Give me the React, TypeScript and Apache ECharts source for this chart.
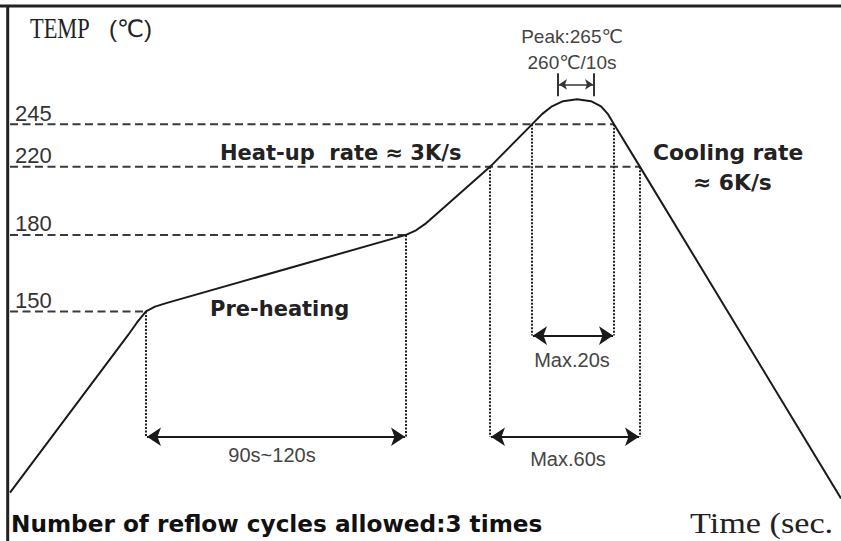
import React, { useEffect, useRef } from "react";
import * as echarts from "echarts";

// Schematic reflow profile. x: schematic time units, y: schematic temperature height
const profileTime = [0, 118, 127, 136, 145, 157, 396, 406, 416, 426, 480, 522, 532, 542, 553, 567, 581, 591, 598, 604, 630, 831];
const profileTemp = [28.5, 121, 128.5, 135, 137.8, 140, 180, 182.7, 186.8, 192, 220, 245, 251, 255.6, 258.6, 259.7, 258.6, 255.6, 251, 245, 220, 25];

// Temperature guide levels (label, schematic height, where the dashed guide ends)
const levelLabels = ["150", "180", "220", "245"];
const levelHeights = [135, 180, 220, 245];
const guideEnds = [136, 396, 630, 604];

// Vertical dotted markers
const markerTimes = [136, 396, 480, 522, 604, 630];
const markerTops = [135, 180, 220, 245, 245, 220];
const markerBottoms = [61.3, 61.3, 61.3, 120.8, 120.8, 61.3];

// Double-headed duration arrows: [from, to, height]
const spanFrom = [137, 481, 523];
const spanTo = [395, 629, 603];
const spanHeight = [61.3, 61.3, 120.8];

// Peak 260°C/10s indicator
const peakFrom = 548;
const peakTo = 584;
const peakHeight = 268.5;
const peakBarLow = 261.5;
const peakBarHigh = 275;

const SANS = "'Liberation Sans', Arial, 'DejaVu Sans', sans-serif";
const BOLD = "'DejaVu Sans', 'Liberation Sans', sans-serif";
const SERIF = "'Liberation Serif', 'Times New Roman', serif";

export default function App() {
  const ref = useRef<HTMLDivElement>(null);
  useEffect(() => {
    if (!ref.current) return;
    const chart = echarts.init(ref.current, undefined, { renderer: "svg" });

    const series: any[] = [];
    series.push({
      type: "line",
      data: profileTime.map((t, i) => [t, profileTemp[i]]),
      symbol: "none",
      lineStyle: { color: "#1a1a1a", width: 2 },
      z: 5,
    });
    levelHeights.forEach((h, i) => {
      series.push({
        type: "line",
        data: [[0, h], [guideEnds[i], h]],
        symbol: "none",
        lineStyle: { color: "#3a3a3a", width: 2, type: [8, 4.5] },
        z: 3,
      });
    });
    markerTimes.forEach((t, i) => {
      series.push({
        type: "line",
        data: [[t, markerTops[i]], [t, markerBottoms[i]]],
        symbol: "none",
        lineStyle: { color: "#222", width: 2, type: [2, 1.5] },
        z: 3,
      });
    });
    series.push({
      type: "line",
      data: [],
      markLine: {
        silent: true,
        animation: false,
        symbol: ["arrow", "arrow"],
        symbolSize: 14,
        label: { show: false },
        lineStyle: { color: "#1a1a1a", width: 2, type: "solid" },
        data: spanFrom.map((f, i) => [
          { coord: [f, spanHeight[i]] },
          { coord: [spanTo[i], spanHeight[i]] },
        ]),
      },
    });
    series.push({
      type: "line",
      data: [],
      markLine: {
        silent: true,
        animation: false,
        symbol: ["arrow", "arrow"],
        symbolSize: 8,
        label: { show: false },
        lineStyle: { color: "#333", width: 1.5, type: "solid" },
        data: [[{ coord: [peakFrom + 1, peakHeight] }, { coord: [peakTo - 1, peakHeight] }]],
      },
    });
    [peakFrom, peakTo].forEach((t) => {
      series.push({
        type: "line",
        data: [[t, peakBarLow], [t, peakBarHigh]],
        symbol: "none",
        lineStyle: { color: "#333", width: 2 },
      });
    });

    const txt = (text: string, x: number, y: number, font: string, size: number, opts: any = {}) => ({
      type: "text",
      x,
      y,
      scaleX: opts.scaleX ?? 1,
      scaleY: opts.scaleY ?? 1,
      style: {
        text,
        fontFamily: font,
        fontSize: size,
        fontWeight: opts.bold ? "bold" : "normal",
        fill: opts.color ?? "#333",
        align: opts.align ?? "left",
        verticalAlign: "middle",
      },
    });

    chart.setOption({
      animation: false,
      backgroundColor: "#fff",
      grid: { left: 10, top: 7, width: 831, height: 538 },
      xAxis: { type: "value", min: 0, max: 831, show: false },
      yAxis: {
        type: "value",
        min: 0,
        max: 314,
        axisLine: { show: false },
        axisTick: { show: false },
        splitLine: { show: false },
        axisLabel: {
          inside: true,
          customValues: levelHeights,
          formatter: (v: number) => {
            const i = levelHeights.indexOf(v);
            return i >= 0 ? levelLabels[i] : "";
          },
          margin: 5,
          verticalAlign: "bottom",
          fontSize: 22,
          color: "#333",
          fontFamily: SANS,
        },
      },
      series,
      graphic: [
        { type: "line", shape: { x1: 0, y1: 6, x2: 841, y2: 6 }, style: { stroke: "#222", lineWidth: 3 } },
        { type: "line", shape: { x1: 7.7, y1: 5, x2: 7.7, y2: 541 }, style: { stroke: "#222", lineWidth: 3 } },
        txt("TEMP", 30, 28, SERIF, 28, { scaleX: 0.8, scaleY: 1.05, color: "#222" }),
        txt("(℃)", 109, 28, SANS, 24, { color: "#222" }),
        txt("Peak:265℃", 572, 36, SANS, 19, { align: "center", color: "#444" }),
        txt("260℃/10s", 572, 62, SANS, 19, { align: "center", color: "#444" }),
        txt("Heat-up  rate ≈ 3K/s", 220, 153, BOLD, 21, { bold: true, color: "#222" }),
        txt("Cooling rate", 653, 152, BOLD, 21.8, { bold: true, color: "#222" }),
        txt("≈ 6K/s", 693, 182, BOLD, 21.8, { bold: true, color: "#222" }),
        txt("Pre-heating", 210, 309, BOLD, 21, { bold: true, color: "#222" }),
        txt("Max.20s", 572, 360, SANS, 20, { align: "center", color: "#444" }),
        txt("Max.60s", 568, 459, SANS, 20, { align: "center", color: "#444" }),
        txt("90s~120s", 272, 455, SANS, 20, { align: "center", color: "#444" }),
        txt("Number of reflow cycles allowed:3 times", 11, 523, BOLD, 23.2, { bold: true, color: "#111" }),
        txt("Time (sec.", 690, 523, SERIF, 29, { scaleX: 1.18, color: "#222" }),
      ],
    });
    return () => chart.dispose();
  }, []);
  return (
    <div
      ref={ref}
      style={{ position: "absolute", left: 0, top: 0, width: 841, height: 541, background: "#fff" }}
    />
  );
}
